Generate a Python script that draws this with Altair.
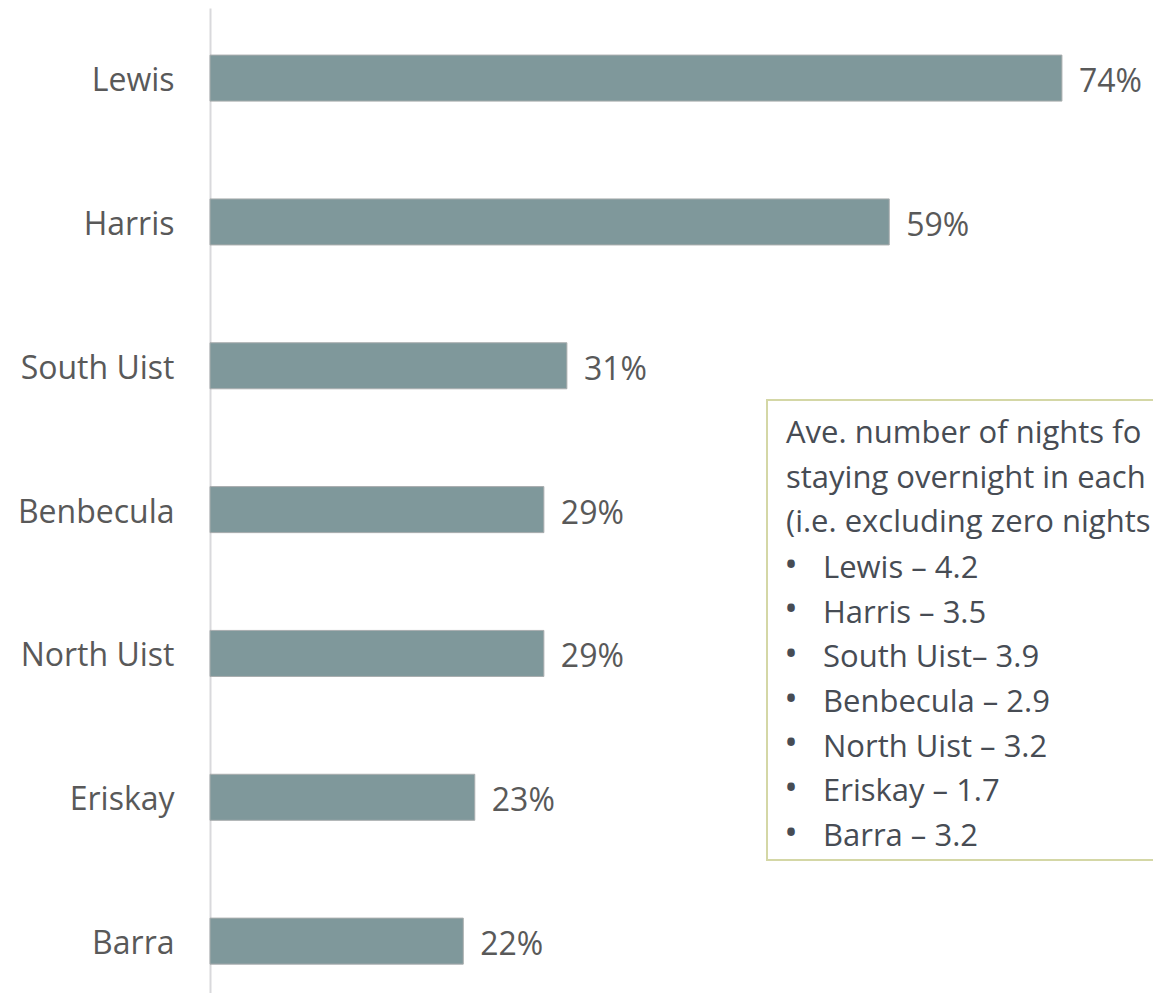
import altair as alt
import pandas as pd

# ---- data ----
islands = ["Lewis", "Harris", "South Uist", "Benbecula", "North Uist", "Eriskay", "Barra"]
pct_values = [74, 59, 31, 29, 29, 23, 22]

# note text as visible in the reference (it runs off the right edge there)
note_header = [
    "Ave. number of nights fo",
    "staying overnight in each",
    "(i.e. excluding zero nights",
]
note_islands = ["Lewis", "Harris", "South Uist", "Benbecula", "North Uist", "Eriskay", "Barra"]
avg_nights = [4.2, 3.5, 3.9, 2.9, 3.2, 1.7, 3.2]
note_items = [
    f"{name}{'' if name == 'South Uist' else ' '}– {v}" for name, v in zip(note_islands, avg_nights)
]

df = pd.DataFrame({"island": islands, "pct": pct_values})
one = pd.DataFrame({"k": [0]})

FONT = "Open Sans"
LABEL_COLOR = "#595959"
NOTE_COLOR = "#474C54"
LINE_H = 44.67
NOTE_FS = 31

y_enc = alt.Y(
    "island:N",
    sort=islands,
    scale=alt.Scale(paddingInner=0.68, paddingOuter=0.264, align=0.62),
    axis=alt.Axis(
        title=None,
        ticks=False,
        grid=False,
        domain=True,
        domainColor="#D9D9DC",
        domainWidth=2,
        labelFont=FONT,
        labelFontSize=32,
        labelColor=LABEL_COLOR,
        labelPadding=36,
        labelOffset=3,
        labelLimit=400,
    ),
)
x_enc = alt.X("pct:Q", scale=alt.Scale(domain=[0, 80]), axis=None)

bars = alt.Chart(df).mark_bar(color="#7F989B", stroke="#A9ADAE", strokeWidth=1).encode(
    x=x_enc, y=y_enc
)

labels = (
    alt.Chart(df)
    .transform_calculate(label="datum.pct + '%'")
    .mark_text(
        align="left", baseline="middle", dx=17, dy=4,
        font=FONT, fontSize=32, color=LABEL_COLOR,
    )
    .encode(x=x_enc, y=y_enc, text="label:N")
)

box = alt.Chart(one).mark_rect(
    fill="white", stroke="#D4D7A6", strokeWidth=2
).encode(
    x=alt.value(557), x2=alt.value(1100), y=alt.value(392), y2=alt.value(852)
)

header = alt.Chart(one).mark_text(
    text=note_header, align="left", baseline="top",
    font=FONT, fontSize=NOTE_FS, color=NOTE_COLOR, lineHeight=LINE_H,
).encode(x=alt.value(576), y=alt.value(411))

bullets = alt.Chart(one).mark_text(
    text=["•"] * len(note_items), align="center", baseline="middle",
    font=FONT, fontSize=36, color=NOTE_COLOR, lineHeight=LINE_H,
).encode(x=alt.value(581), y=alt.value(557.5))

items = alt.Chart(one).mark_text(
    text=note_items, align="left", baseline="top",
    font=FONT, fontSize=NOTE_FS, color=NOTE_COLOR, lineHeight=LINE_H,
).encode(x=alt.value(613), y=alt.value(546))

chart = (
    alt.layer(bars, labels, box, header, bullets, items)
    .properties(
        width=921,
        height=985,
        autosize=alt.AutoSizeParams(type="none"),
        padding={"left": 202, "right": 22, "top": 0, "bottom": 0},
        background="white",
    )
    .configure_view(stroke=None)
)

chart.save("out.html", embed_options={"renderer": "svg", "actions": False})
